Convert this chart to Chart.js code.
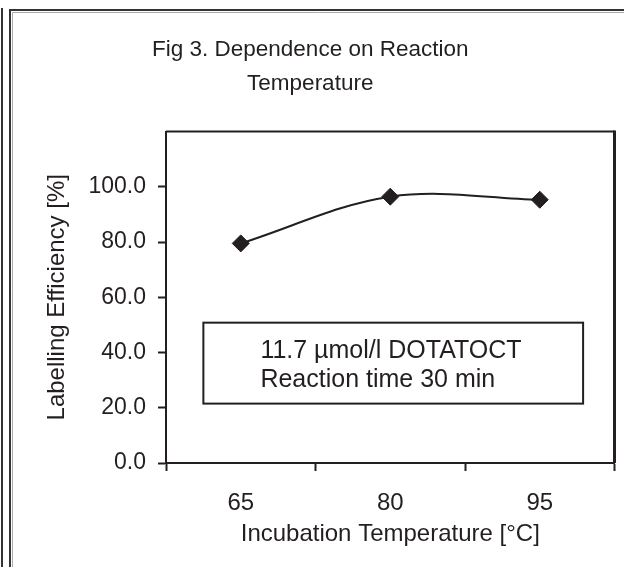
<!DOCTYPE html>
<html>
<head>
<meta charset="utf-8">
<script src="https://cdn.jsdelivr.net/npm/chart.js@4.4.1/dist/chart.umd.min.js"></script>
<style>
html,body{margin:0;padding:0;background:#fff;}
#wrap{width:624px;height:567px;position:relative;}
</style>
</head>
<body>
<div id="wrap"><canvas id="mychart" width="624" height="567"></canvas></div>
<script>
// data
var temps = ["65", "80", "95"];
var efficiency = [79.5, 96.4, 95.3];
var yMax = 120;
var yStep = 20;
var titleLines = ["Fig 3. Dependence on Reaction", "Temperature"];
var xTitle = "Incubation Temperature [°C]";
var yTitle = "Labelling Efficiency [%]";
var noteLines = ["11.7 µmol/l DOTATOCT", "Reaction time 30 min"];

var ink = "#231f20";
var fam = "'Liberation Sans Narrow', 'Arial Narrow', 'Liberation Sans', Arial, sans-serif";

// outer page frame + top/right plot border + note box
var extras = {
    id: "extras",
    beforeDraw: function(chart){
        var c = chart.ctx;
        c.save();
        c.strokeStyle = "#333";
        c.lineWidth = 2;
        c.beginPath();
        c.moveTo(2, 8); c.lineTo(2, 567);
        c.stroke();
        c.beginPath();
        c.moveTo(10, 567); c.lineTo(10, 10); c.lineTo(624, 10);
        c.stroke();
        c.strokeStyle = "#aaa";
        c.lineWidth = 1;
        c.beginPath();
        c.moveTo(12.5, 567); c.lineTo(12.5, 12.5); c.lineTo(624, 12.5);
        c.stroke();
        c.restore();
    },
    afterDraw: function(chart){
        var c = chart.ctx, a = chart.chartArea;
        var xs = chart.scales.x, ys = chart.scales.y;
        c.save();
        c.strokeStyle = ink;
        c.lineWidth = 2;
        c.beginPath();
        c.moveTo(a.left, a.top); c.lineTo(a.right, a.top);
        c.stroke();
        c.lineWidth = 3;
        c.beginPath();
        c.moveTo(a.right, a.top - 1); c.lineTo(a.right, a.bottom);
        c.stroke();
        // note box
        var bx1 = xs.getPixelForValue(-0.25), bx2 = xs.getPixelForValue(2.29);
        var by1 = ys.getPixelForValue(50.8), by2 = ys.getPixelForValue(21.5);
        c.lineWidth = 2;
        c.strokeRect(bx1, by1, bx2 - bx1, by2 - by1);
        c.fillStyle = ink;
        c.font = "25px " + fam;
        c.textAlign = "left";
        c.textBaseline = "middle";
        c.fillText(noteLines[0], bx1 + 57, by1 + 28);
        c.fillText(noteLines[1], bx1 + 57, by1 + 57);
        c.restore();
    }
};

var ctx = document.getElementById("mychart").getContext("2d");
var chart = new Chart(ctx, {
    type: "line",
    data: {
        labels: temps,
        datasets: [{
            label: "Labelling efficiency",
            data: efficiency,
            borderColor: ink,
            borderWidth: 2,
            tension: 0.35,
            pointStyle: "rectRot",
            pointRadius: 8.5,
            pointBackgroundColor: ink,
            pointBorderColor: ink,
            pointBorderWidth: 1,
            fill: false
        }]
    },
    options: {
        responsive: false,
        animation: false,
        layout: { padding: { left: 0, right: 3.5, top: 0, bottom: 0 } },
        plugins: {
            legend: { display: false },
            tooltip: { enabled: false },
            title: {
                display: true,
                text: titleLines,
                color: ink,
                font: { family: fam, size: 22.5, weight: "normal", lineHeight: 1.5 },
                padding: { top: 33, bottom: 31 }
            }
        },
        scales: {
            x: {
                type: "category",
                offset: true,
                afterFit: function(s){ s.height = 104; },
                grid: { offset: true, drawOnChartArea: false, drawTicks: true, tickLength: 8, tickWidth: 2, tickColor: ink },
                border: { display: true, color: ink, width: 2 },
                ticks: { color: ink, padding: 18, font: { family: fam, size: 24 } },
                title: { display: true, text: xTitle, color: ink, padding: { top: 0, bottom: 18 }, font: { family: fam, size: 24 } }
            },
            y: {
                min: 0,
                max: yMax,
                afterFit: function(s){ s.width = 166; },
                grid: { drawOnChartArea: false, drawTicks: true, tickLength: 8, tickWidth: 2, tickColor: function(c){ return c.tick && c.tick.value === yMax ? "rgba(0,0,0,0)" : ink; } },
                border: { display: true, color: ink, width: 2 },
                ticks: {
                    stepSize: yStep,
                    color: ink,
                    padding: 12,
                    font: { family: fam, size: 23 },
                    callback: function(v){ return v === yMax ? "" : v.toFixed(1); }
                },
                title: { display: true, text: yTitle, color: ink, padding: { top: 43, bottom: 0 }, font: { family: fam, size: 24 } }
            }
        }
    },
    plugins: [extras]
});
</script>
</body>
</html>
